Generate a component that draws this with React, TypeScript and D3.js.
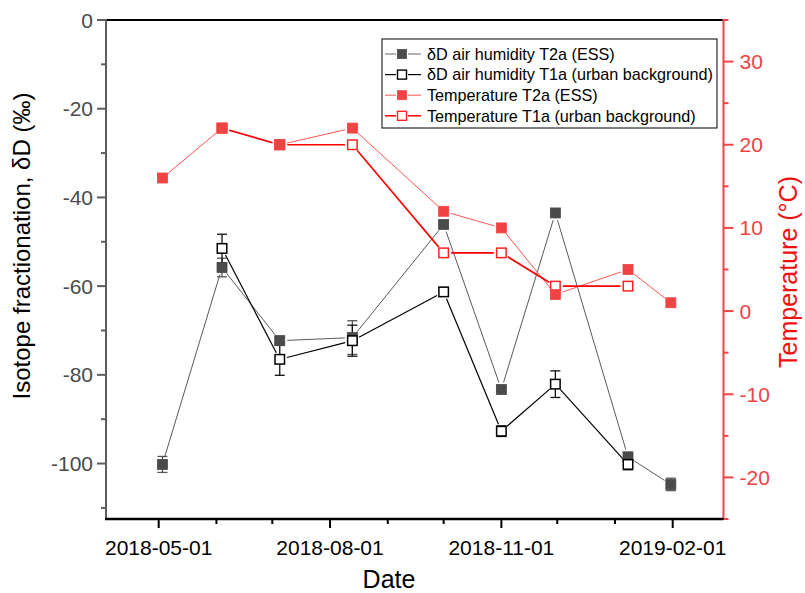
import React from "react";
import * as d3 from "d3";

const dates = ["2018-05-03", "2018-06-04", "2018-07-05", "2018-08-13", "2018-10-01", "2018-11-01", "2018-11-30", "2019-01-08", "2019-01-31"];
const dDT2a: (number | null)[] = [-100.2, -55.8, -72.3, -71.6, -46.1, -83.3, -43.5, -98.5, -104.7];
const dDT2aErr: (number | null)[] = [1.8, 2.1, 1.0, 3.8, 0.5, 0.4, 0.5, 1.0, 1.4];
const dDT1a: (number | null)[] = [null, -51.5, -76.5, -72.3, -61.3, -92.7, -82.1, -100.2, null];
const dDT1aErr: (number | null)[] = [null, 3.2, 3.6, 3.5, 1.0, 1.2, 3.0, 1.2, null];
const tempT2a: (number | null)[] = [16, 22, 20, 22, 12, 10, 2, 5, 1];
const tempT1a: (number | null)[] = [null, 22, 20, 20, 7, 7, 3, 3, null];

const leftTicks = [0, -20, -40, -60, -80, -100];
const leftMinor = [-10, -30, -50, -70, -90, -110];
const rightTicks = [30, 20, 10, 0, -10, -20];
const rightMinor = [35, 25, 15, 5, -5, -15, -25];
const xTicks = ["2018-05-01", "2018-08-01", "2018-11-01", "2019-02-01"];
const xMinor = ["2018-06-01", "2018-07-01", "2018-09-01", "2018-10-01", "2018-12-01", "2019-01-01"];

const legendLabels = [
  "δD air humidity T2a (ESS)",
  "δD air humidity T1a (urban background)",
  "Temperature T2a (ESS)",
  "Temperature T1a (urban background)",
];

const FONT = "'Liberation Sans', Arial, sans-serif";
const L = 106, R = 723.5, T = 20, B = 519;

const parse = (s: string) => new Date(s + "T00:00:00Z");
const x = d3.scaleUtc().domain([parse("2018-05-01"), parse("2019-02-01")]).range([158.7, 672.7]);
const yL = d3.scaleLinear().domain([-112.5, 0]).range([B, T]);
const yR = d3.scaleLinear().domain([-25, 35]).range([B, T]);

const GRAY = "#4b4b4b";
const RED = "#f04343";

type Pt = [number, number];

function pts(vals: (number | null)[], y: d3.ScaleLinear<number, number>): (Pt | null)[] {
  return vals.map((v, i) => (v == null ? null : [x(parse(dates[i])), y(v)] as Pt));
}

function Segments({ p, color, width, gap = 7.5 }: { p: (Pt | null)[]; color: string; width: number; gap?: number }) {
  const segs: JSX.Element[] = [];
  for (let i = 0; i < p.length - 1; i++) {
    const a = p[i], b = p[i + 1];
    if (!a || !b) continue;
    const dx = b[0] - a[0], dy = b[1] - a[1];
    const len = Math.hypot(dx, dy);
    if (len <= 2 * gap) continue;
    const ux = dx / len, uy = dy / len;
    segs.push(
      <line key={i} x1={a[0] + ux * gap} y1={a[1] + uy * gap} x2={b[0] - ux * gap} y2={b[1] - uy * gap}
        stroke={color} strokeWidth={width} />
    );
  }
  return <g>{segs}</g>;
}

function ErrorBars({ vals, errs, color }: { vals: (number | null)[]; errs: (number | null)[]; color: string }) {
  return (
    <g stroke={color} strokeWidth={1.3}>
      {vals.map((v, i) => {
        const e = errs[i];
        if (v == null || e == null) return null;
        const cx = x(parse(dates[i]));
        const y1 = yL(v + e), y2 = yL(v - e);
        return (
          <g key={i}>
            <line x1={cx} x2={cx} y1={y1} y2={y2} />
            <line x1={cx - 5} x2={cx + 5} y1={y1} y2={y1} />
            <line x1={cx - 5} x2={cx + 5} y1={y2} y2={y2} />
          </g>
        );
      })}
    </g>
  );
}

function Markers({ p, fill, stroke, size = 10, sw = 1.4 }: { p: (Pt | null)[]; fill: string; stroke: string; size?: number; sw?: number }) {
  return (
    <g>
      {p.map((q, i) =>
        q ? (
          <rect key={i} x={q[0] - size / 2} y={q[1] - size / 2} width={size} height={size} fill={fill} stroke={stroke} strokeWidth={sw} />
        ) : null
      )}
    </g>
  );
}

export default function App() {
  const pG = pts(dDT2a, yL);
  const pK = pts(dDT1a, yL);
  const pRT2 = pts(tempT2a, yR);
  const pRT1 = pts(tempT1a, yR);

  const legendStyles = [
    { line: "#666", fill: GRAY, stroke: GRAY, lw: 1 },
    { line: "#000", fill: "#fff", stroke: "#000", lw: 1.2 },
    { line: "#f55", fill: RED, stroke: RED, lw: 1 },
    { line: "#f00", fill: "#fff", stroke: "#f22", lw: 1.5 },
  ];

  return (
    <svg width={805} height={593} style={{ position: "absolute", left: 0, top: 0, background: "#fff" }} fontFamily={FONT}>
      <rect width={805} height={593} fill="#fff" />

      {/* data lines */}
      <Segments p={pG} color="#5a5a5a" width={1} />
      <Segments p={pK} color="#000" width={1.2} />
      <Segments p={pRT2} color="#f55" width={1} />
      <Segments p={pRT1} color="#f00" width={1.6} />

      {/* error bars */}
      <ErrorBars vals={dDT2a} errs={dDT2aErr} color="#555" />
      <ErrorBars vals={dDT1a} errs={dDT1aErr} color="#111" />

      {/* markers */}
      <Markers p={pG} fill={GRAY} stroke={GRAY} sw={0.8} />
      <Markers p={pK} fill="#fff" stroke="#000" size={9.5} sw={1.5} />
      <Markers p={pRT1} fill="#fff" stroke="#f22" size={9.5} sw={1.5} />
      <Markers p={pRT2} fill={RED} stroke={RED} sw={0.8} />

      {/* frame: top */}
      <line x1={L} x2={R} y1={T} y2={T} stroke="#000" strokeWidth={2} />

      {/* left axis */}
      <g>
        <line x1={L} x2={L} y1={T - 1} y2={B} stroke="#5e5e5e" strokeWidth={2} />
        {leftTicks.map((t) => (
          <g key={t}>
            <line x1={L - 9} x2={L} y1={yL(t)} y2={yL(t)} stroke="#5e5e5e" strokeWidth={2} />
            <text x={L - 13} y={yL(t)} dy="0.36em" textAnchor="end" fontSize={21} fill="#4a4a4a">{t}</text>
          </g>
        ))}
        {leftMinor.map((t) => (
          <line key={t} x1={L - 5} x2={L} y1={yL(t)} y2={yL(t)} stroke="#5e5e5e" strokeWidth={2} />
        ))}
        <text transform={`translate(30,246) rotate(-90)`} textAnchor="middle" fontSize={24} fill="#000">
          Isotope fractionation, δD (‰)
        </text>
      </g>

      {/* right axis */}
      <g>
        <line x1={R} x2={R} y1={T - 1} y2={B + 1} stroke={RED} strokeWidth={2} />
        {rightTicks.map((t) => (
          <g key={t}>
            <line x1={R} x2={R + 10} y1={yR(t)} y2={yR(t)} stroke={RED} strokeWidth={2} />
            <text x={R + 16} y={yR(t)} dy="0.36em" textAnchor="start" fontSize={21} fill={RED}>{t}</text>
          </g>
        ))}
        {rightMinor.map((t) => (
          <line key={t} x1={R} x2={R + 5} y1={yR(t)} y2={yR(t)} stroke={RED} strokeWidth={2} />
        ))}
        <text transform={`translate(797,272) rotate(-90)`} textAnchor="middle" fontSize={25} fill="#f01010">
          Temperature (°C)
        </text>
      </g>

      {/* bottom axis */}
      <g>
        <line x1={L - 1} x2={R} y1={B} y2={B} stroke="#000" strokeWidth={2.5} />
        {xTicks.map((t) => (
          <g key={t}>
            <line x1={x(parse(t))} x2={x(parse(t))} y1={B} y2={B + 9} stroke="#000" strokeWidth={2} />
            <text x={x(parse(t))} y={555} textAnchor="middle" fontSize={21} fill="#000">{t}</text>
          </g>
        ))}
        {xMinor.map((t) => (
          <line key={t} x1={x(parse(t))} x2={x(parse(t))} y1={B} y2={B + 5} stroke="#000" strokeWidth={2} />
        ))}
        <text x={389} y={588} textAnchor="middle" fontSize={25} fill="#000">Date</text>
      </g>

      {/* legend */}
      <g>
        <rect x={382} y={39} width={335} height={89} fill="#fff" stroke="#000" strokeWidth={1} />
        {legendLabels.map((lab, i) => {
          const cy = 54 + i * 20.6;
          const s = legendStyles[i];
          return (
            <g key={lab}>
              <line x1={385} x2={396} y1={cy} y2={cy} stroke={s.line} strokeWidth={s.lw} />
              <line x1={408} x2={421} y1={cy} y2={cy} stroke={s.line} strokeWidth={s.lw} />
              <rect x={397.5} y={cy - 4.5} width={9} height={9} fill={s.fill} stroke={s.stroke} strokeWidth={i % 2 === 1 ? 1.4 : 0.8} />
              <text x={427} y={cy} dy="0.36em" fontSize={16.2} fill="#000">{lab}</text>
            </g>
          );
        })}
      </g>
    </svg>
  );
}
